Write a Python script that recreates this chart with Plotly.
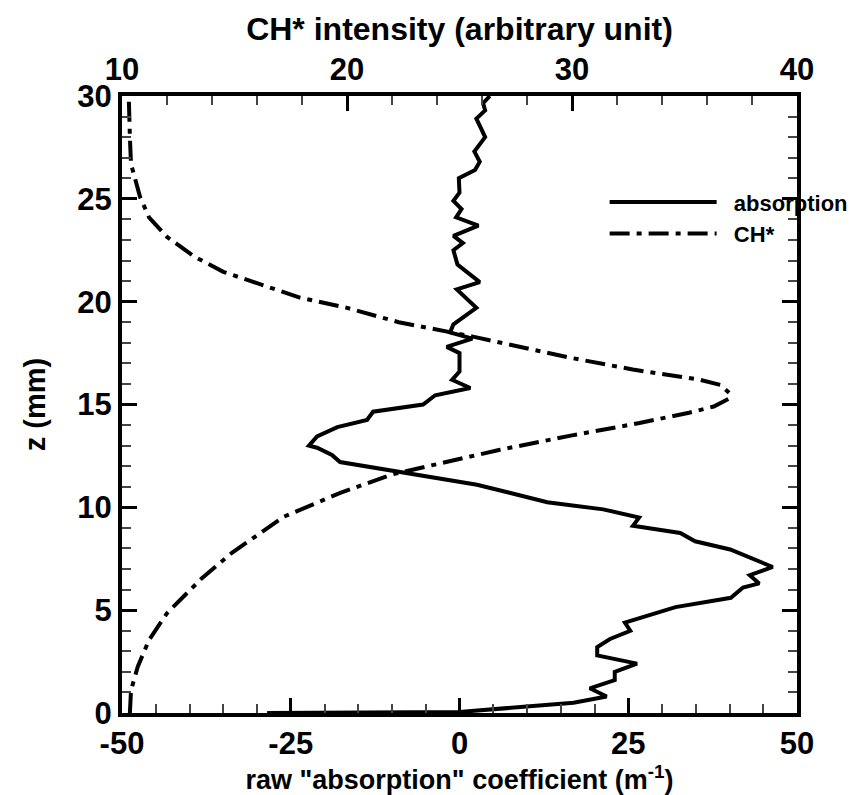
import plotly.graph_objects as go

# absorption profile: z (mm) and raw absorption coefficient (1/m)
z_abs = [0.0, 0.05, 0.5, 0.8, 1.2, 1.6, 2.0, 2.4, 2.8, 3.2, 3.6, 4.0, 4.4, 5.15, 5.6,
         6.1, 6.3, 6.7, 7.1, 7.95, 8.35, 8.75, 9.1, 9.5, 9.9, 10.25, 11.1, 12.2, 12.55,
         12.9, 13.0, 13.45, 13.9, 14.25, 14.65, 15.0, 15.45, 15.8, 16.2, 16.6, 17.5,
         17.8, 18.2, 18.5, 18.9, 19.7, 20.6, 20.95, 21.8, 22.5, 22.85, 23.2, 23.7,
         24.1, 24.5, 24.9, 25.3, 26.0, 26.4, 26.8, 27.3, 28.0, 28.9, 29.3, 29.65, 30.0]
abs_vals = [-28.5, 0.0, 16.9, 21.8, 19.3, 23.0, 23.0, 26.3, 20.4, 20.4, 22.3, 25.3, 24.5,
            32.0, 40.2, 42.0, 44.4, 43.0, 46.4, 40.1, 34.9, 32.7, 25.7, 26.6, 21.3, 13.0,
            2.6, -17.7, -18.9, -21.1, -22.3, -21.1, -18.1, -13.7, -12.8, -5.4, -3.6, 1.6,
            -1.1, 0.0, 0.0, -1.9, 1.9, -1.4, -0.9, 2.5, -0.4, 3.0, -0.3, -0.9, 0.5, -0.9,
            2.8, -0.5, 0.3, -0.9, 0.0, -0.1, 2.3, 3.0, 2.2, 3.8, 2.5, 3.8, 3.5, 4.5]

# CH* chemiluminescence profile: z (mm) and intensity (arbitrary unit)
z_ch = [0.0, 1.1, 2.25, 3.55, 4.85, 6.5, 7.8, 9.55, 10.7, 11.6, 12.05, 12.8, 13.5, 14.1,
        14.6, 14.9, 15.3, 15.55, 15.95, 16.2, 16.7, 17.3, 18.3, 19.0, 19.7, 20.2, 20.9,
        21.45, 22.2, 23.15, 24.1, 25.1, 25.9, 26.7, 28.0, 30.0]
ch_vals = [10.35, 10.4, 10.7, 11.2, 12.0, 13.5, 14.9, 17.2, 19.7, 22.0, 23.8, 26.8, 30.0,
           33.0, 35.2, 36.3, 37.0, 37.0, 36.6, 35.7, 32.7, 29.8, 25.6, 22.3, 20.0, 17.9,
           16.0, 14.5, 13.2, 12.0, 11.2, 10.8, 10.6, 10.4, 10.35, 10.3]

x_ticks = [-50, -25, 0, 25, 50]
x2_ticks = [10, 20, 30, 40]
y_ticks = [0, 5, 10, 15, 20, 25, 30]

FONT = "Liberation Sans, Arial, Helvetica, sans-serif"

fig = go.Figure()
fig.add_trace(go.Scatter(x=abs_vals, y=z_abs, mode="lines", name="\u00a0\u00a0absorption",
                         line=dict(color="black", width=4), xaxis="x", yaxis="y"))
fig.add_trace(go.Scatter(x=ch_vals, y=z_ch, mode="lines", name="\u00a0\u00a0CH*",
                         line=dict(color="black", width=4, dash="20px,7px,5px,7px"),
                         xaxis="x2", yaxis="y"))

tickfont = dict(family=FONT, size=31, color="black", weight="bold")

common = dict(showline=True, linecolor="black", linewidth=4, ticks="inside",
              ticklen=15, tickwidth=3, tickcolor="black", showgrid=False,
              zeroline=False, tickfont=tickfont)

fig.update_layout(
    width=866, height=795,
    margin=dict(l=122, r=69, t=96, b=82),
    plot_bgcolor="white", paper_bgcolor="white",
    showlegend=True,
    legend=dict(x=0.715, y=0.862, xanchor="left", yanchor="top",
                bgcolor="rgba(0,0,0,0)", itemwidth=107,
                font=dict(family=FONT, size=22, color="black", weight="bold"),
                tracegroupgap=0),
    xaxis=dict(range=[-50, 50], tickvals=x_ticks, ticktext=[str(v) for v in x_ticks],
               side="bottom", mirror=False,
               title=dict(text='raw "absorption" coefficient (m<sup>-1</sup>)',
                          font=dict(family=FONT, size=27, color="black", weight="bold"),
                          standoff=0),
               minor=dict(dtick=5, ticks="inside", ticklen=9, tickwidth=1.5,
                          tickcolor="#444"),
               **common),
    xaxis2=dict(range=[10, 40], tickvals=x2_ticks, overlaying="x", side="top",
                anchor="y",
                title=dict(text="CH* intensity (arbitrary unit)",
                           font=dict(family=FONT, size=32, color="black", weight="bold"),
                           standoff=2),
                minor=dict(dtick=2, ticks="inside", ticklen=9, tickwidth=1.5,
                           tickcolor="#444"),
                **common),
    yaxis=dict(range=[0, 30], tickvals=y_ticks, mirror="ticks",
               title=dict(text="z (mm)",
                          font=dict(family=FONT, size=29, color="black", weight="bold"),
                          standoff=24),
               minor=dict(dtick=1, ticks="inside", ticklen=9, tickwidth=1.5,
                          tickcolor="#444"),
               **common),
)

fig.write_html("out.html")
